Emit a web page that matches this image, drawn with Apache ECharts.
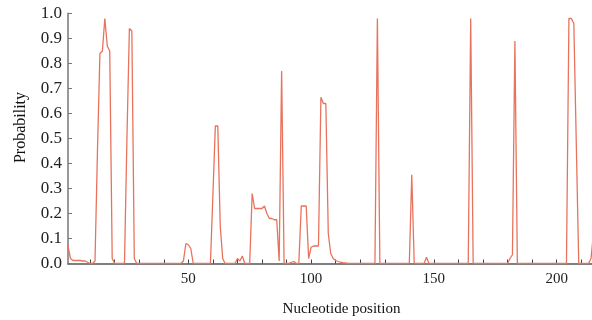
<!DOCTYPE html>
<html>
<head>
<meta charset="utf-8">
<script src="https://cdn.jsdelivr.net/npm/echarts@6/dist/echarts.min.js"></script>
<style>
html,body{margin:0;padding:0;background:#fff;}
#chart{width:592px;height:320px;}
</style>
</head>
<body>
<div id="chart"></div>
<script>
// Nucleotide positions start at 1; one probability per position
const startPosition = 1;
const probability = [
  0.07, 0.02, 0.012, 0.012, 0.012, 0.012, 0.01, 0.01, 0.005, 0,      // 1-10
  0, 0.01, 0.45, 0.84, 0.85, 0.98, 0.87, 0.85, 0.02, 0,              // 11-20
  0, 0, 0, 0, 0.5, 0.94, 0.93, 0.02, 0, 0,                           // 21-30
  0, 0, 0, 0, 0, 0, 0, 0, 0, 0,                                      // 31-40
  0, 0, 0, 0, 0, 0, 0, 0.01, 0.08, 0.075,                            // 41-50
  0.06, 0, 0, 0, 0, 0, 0, 0, 0, 0.27,                                // 51-60
  0.55, 0.55, 0.15, 0.02, 0, 0, 0, 0, 0, 0.02,                       // 61-70
  0.01, 0.03, 0, 0, 0, 0.28, 0.22, 0.22, 0.22, 0.22,                 // 71-80
  0.23, 0.2, 0.18, 0.18, 0.175, 0.175, 0.01, 0.77, 0, 0,             // 81-90
  0, 0.005, 0.008, 0, 0, 0.23, 0.23, 0.23, 0.02, 0.065,              // 91-100
  0.07, 0.07, 0.07, 0.665, 0.64, 0.64, 0.12, 0.04, 0.02, 0.012,      // 101-110
  0.008, 0.005, 0.003, 0.002, 0, 0, 0, 0, 0, 0,                      // 111-120
  0, 0, 0, 0, 0, 0, 0.98, 0, 0, 0,                                   // 121-130
  0, 0, 0, 0, 0, 0, 0, 0, 0, 0,                                      // 131-140
  0.355, 0, 0, 0, 0, 0, 0.025, 0, 0, 0,                              // 141-150
  0, 0, 0, 0, 0, 0, 0, 0, 0, 0,                                      // 151-160
  0, 0, 0, 0, 0.98, 0, 0, 0, 0, 0,                                   // 161-170
  0, 0, 0, 0, 0, 0, 0, 0, 0, 0,                                      // 171-180
  0.02, 0.035, 0.89, 0, 0, 0, 0, 0, 0, 0,                            // 181-190
  0, 0, 0, 0, 0, 0, 0, 0, 0, 0,                                      // 191-200
  0, 0, 0, 0, 0.98, 0.98, 0.96, 0.48, 0, 0,                          // 201-210
  0, 0, 0, 0.02, 0.12                                                // 211-215
];
const xLabelValues = [50, 100, 150, 200];
const yTickLabels = ['0.0','0.1','0.2','0.3','0.4','0.5','0.6','0.7','0.8','0.9','1.0'];
const xName = 'Nucleotide position';
const yName = 'Probability';

const seriesData = probability.map((v, i) => [startPosition + i, v]);
const font = 'Liberation Serif';

const chart = echarts.init(document.getElementById('chart'), null, {renderer: 'canvas'});
chart.setOption({
  animation: false,
  backgroundColor: '#ffffff',
  grid: {left: 68, right: 0, top: 13.5, bottom: 56.5, containLabel: false, outerBoundsMode: 'none'},
  xAxis: {
    type: 'value',
    min: 1,
    max: 214.4,
    splitNumber: 20,
    minInterval: 10,
    maxInterval: 10,
    name: xName,
    nameLocation: 'middle',
    nameGap: 38,
    nameMoveOverlap: false,
    nameTextStyle: {fontFamily: font, fontSize: 15, color: '#111', padding: [0, 0, 0, 23]},
    axisLine: {show: true, onZero: false, lineStyle: {color: '#555', width: 1.5}},
    axisTick: {show: true, inside: true, length: 4, lineStyle: {color: '#444', width: 1}},
    axisLabel: {
      fontFamily: font, fontSize: 15, color: '#222', margin: 8,
      showMinLabel: false, showMaxLabel: false,
      formatter: v => xLabelValues.indexOf(v) >= 0 ? String(v) : ''
    },
    splitLine: {show: false}
  },
  yAxis: {
    type: 'value',
    min: 0,
    max: 1,
    interval: 0.1,
    name: yName,
    nameLocation: 'middle',
    nameGap: 39,
    nameRotate: 90,
    nameMoveOverlap: false,
    nameTextStyle: {fontFamily: font, fontSize: 16, color: '#111', padding: [0, 0, 0, 22]},
    axisLine: {show: true, lineStyle: {color: '#999', width: 2}},
    axisTick: {show: true, inside: true, length: 4, lineStyle: {color: '#777', width: 1}},
    axisLabel: {
      fontFamily: font, fontSize: 17, color: '#222', margin: 6,
      formatter: v => yTickLabels[Math.round(v * 10)]
    },
    splitLine: {show: false}
  },
  series: [{
    type: 'line',
    data: seriesData,
    showSymbol: false,
    symbol: 'none',
    clip: true,
    lineStyle: {color: '#e8735d', width: 1.3},
    itemStyle: {color: '#e8735d'}
  }]
});
</script>
</body>
</html>
